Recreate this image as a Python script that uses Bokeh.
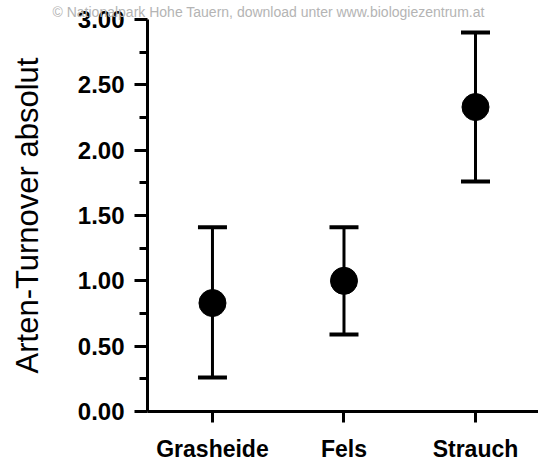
from bokeh.plotting import figure
from bokeh.models import FixedTicker, NumeralTickFormatter, Range1d, Title, ColumnDataSource
from bokeh.embed import file_html
from bokeh.resources import INLINE

categories = ["Grasheide", "Fels", "Strauch"]
positions = [1, 2, 3]
means = [0.83, 1.00, 2.33]
lower = [0.26, 0.59, 1.76]
upper = [1.41, 1.41, 2.90]
y_ticks = [0.0, 0.5, 1.0, 1.5, 2.0, 2.5, 3.0]
y_minor = [0.25, 0.75, 1.25, 1.75, 2.25, 2.75]

src = ColumnDataSource(dict(x=positions, m=means, lo=lower, hi=upper))

FONT = "Liberation Sans"

p = figure(width=538, height=467, output_backend="svg", toolbar_location=None,
           x_range=Range1d(0.506, 3.479), y_range=Range1d(0, 3.0),
           min_border_left=147, min_border_right=0, min_border_top=19, min_border_bottom=56)
p.outline_line_color = None
p.xgrid.visible = False
p.ygrid.visible = False
p.background_fill_color = "white"

# error bars
p.segment(x0="x", y0="lo", x1="x", y1="hi", source=src, line_color="black", line_width=3)
p.scatter(x="x", y="hi", source=src, marker="dash", size=29, line_color="black", line_width=4)
p.scatter(x="x", y="lo", source=src, marker="dash", size=29, line_color="black", line_width=4)
p.scatter(x="x", y="m", source=src, marker="circle", size=27, fill_color="black", line_color="black")

# y axis
ya = p.yaxis[0]
ya.ticker = FixedTicker(ticks=y_ticks, minor_ticks=y_minor)
ya.formatter = NumeralTickFormatter(format="0.00")
ya.axis_line_width = 3
ya.major_tick_line_width = 3
ya.minor_tick_line_width = 3
ya.major_tick_out = 13
ya.major_tick_in = 0
ya.minor_tick_out = 8
ya.minor_tick_in = 0
ya.major_label_text_font = FONT
ya.major_label_text_font_style = "bold"
ya.major_label_text_font_size = "24px"
ya.major_label_text_color = "black"
ya.major_label_standoff = 10
ya.axis_label = "Arten-Turnover absolut"
ya.axis_label_text_font = FONT
ya.axis_label_text_font_style = "normal"
ya.axis_label_text_font_size = "31px"
ya.axis_label_text_color = "black"
ya.axis_label_standoff = 30

# x axis
xa = p.xaxis[0]
xa.ticker = FixedTicker(ticks=positions, minor_ticks=[])
xa.major_label_overrides = {pos: c for pos, c in zip(positions, categories)}
xa.axis_line_width = 3
xa.major_tick_line_width = 3
xa.major_tick_out = 11
xa.major_tick_in = 0
xa.minor_tick_line_color = None
xa.major_label_text_font = FONT
xa.major_label_text_font_style = "bold"
xa.major_label_text_font_size = "23px"
xa.major_label_text_color = "black"
xa.major_label_standoff = 13

wm = Title(text="© Nationalpark Hohe Tauern, download unter www.biologiezentrum.at",
           text_font=FONT, text_font_size="14px", text_color="#b4b4b4",
           text_font_style="normal", align="left", offset=-95, standoff=0)
p.add_layout(wm, "above")

open("out.html", "w").write(file_html(p, INLINE))
